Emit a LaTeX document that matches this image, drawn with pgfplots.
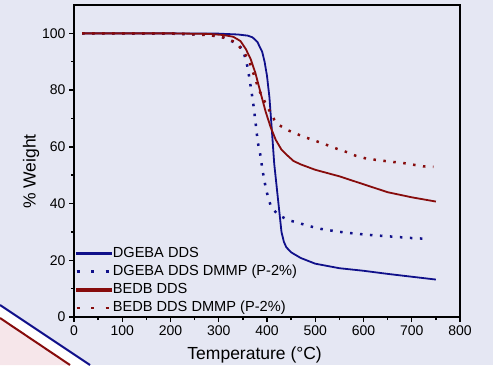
\documentclass[border=0pt]{standalone}
\usepackage{pgfplots}
\pgfplotsset{compat=1.18}
\usepackage{fontspec}
\setmainfont{Liberation Sans}
\definecolor{bgc}{RGB}{229,231,243}
\definecolor{navyc}{RGB}{16,16,138}
\definecolor{maroonc}{RGB}{135,12,12}
\definecolor{pinkc}{RGB}{246,230,234}
\begin{document}
\begin{tikzpicture}[x=1pt,y=1pt]
\fill[bgc] (0,0) rectangle (493,365);
\fill[pinkc] (0,47) -- (70,0) -- (0,0) -- cycle;
\fill[white] (0,60) -- (90,0) -- (70,0) -- (0,47) -- cycle;
\draw[navyc, line width=2pt] (0,60) -- (90,0);
\draw[maroonc, line width=2pt] (0,47) -- (70,0);
\begin{axis}[
  scale only axis,
  width=386pt, height=312pt,
  at={(74pt,48pt)}, anchor=south west,
  xmin=0, xmax=800, ymin=0, ymax=110,
  xtick={0,100,...,800}, ytick={0,20,...,100},
  minor x tick num=1, minor y tick num=1,
  tick align=outside,
  major tick length=5pt, minor tick length=3pt,
  xtick pos=bottom, ytick pos=left,
  axis line style={line width=1.6pt},
  every tick/.style={black, line width=1.4pt},
  tick label style={font=\fontsize{14}{16}\selectfont},
  /pgf/number format/assume math mode=true,
  xlabel={Temperature (°C)}, ylabel={\% Weight},
  label style={font=\fontsize{17.5}{20}\selectfont},
  xlabel style={at={(axis description cs:0.468,0)}, anchor=center, yshift=-38pt},
  ylabel style={at={(axis description cs:0,0.466)}, anchor=center, yshift=43pt},
  axis background/.style={fill=bgc},
  legend style={draw=none, fill=none, at={(axis description cs:0.003,0.2276)}, anchor=north west,
    font=\fontsize{14.6}{16}\selectfont, inner sep=0pt, column sep=1pt, row sep=3.7pt,
    nodes={inner sep=0pt, text height=11pt, text depth=3.5pt}},
  legend cell align=left,
]
\addplot[color=navyc, solid, line width=1.8pt,
  legend image code/.code={\fill[navyc] (0pt,-1pt) rectangle (34pt,1pt);}] coordinates {
(17,100)(200,100)(300,99.9)(340,99.6)(360,99.2)(370,98.6)(380,97)(390,93.5)(395,90)(400,85)(405,77.5)(410,66)(415,54)(420,46)(425,38)(430,30)(435,26.5)(440,24.6)(450,22.8)(470,20.8)(500,18.8)(550,17.2)(600,16.3)(650,15.2)(700,14.2)(750,13.2)};
\addlegendentry{DGEBA DDS}
\addplot[color=navyc, line width=2.5pt, line cap=butt, dash pattern=on 2.5pt off 7.5pt,
  legend image code/.code={\draw[navyc, line width=2.5pt, dash pattern=on 3pt off 11.5pt] (0pt,0pt) -- (34pt,0pt);}] coordinates {
(17,100)(200,99.9)(280,99.5)(310,98.5)(330,97)(350,94.5)(360,88)(366,81.5)(371,76)(376,69)(381,61.5)(387,56.5)(390,52.5)(395,47.6)(400,43.7)(407,39.6)(415,37.5)(424,36)(442,34.3)(462,33.3)(483,32.3)(504,31.3)(524,30.7)(560,29.8)(607,29)(655,28.4)(703,27.8)(728,27.6)};
\addlegendentry{DGEBA DDS DMMP (P-2\%)}
\addplot[color=maroonc, solid, line width=1.8pt,
  legend image code/.code={\fill[maroonc] (0pt,-1pt) rectangle (34pt,1pt);}] coordinates {
(17,100)(200,100)(280,99.8)(310,99.4)(330,98.8)(345,97.3)(356,94.5)(366,91)(376,86)(386,79.5)(397,72.5)(407,67.2)(418,62.5)(430,59)(440,57.3)(455,55)(470,53.8)(500,51.9)(550,49.6)(600,46.8)(650,44)(700,42.2)(750,40.7)};
\addlegendentry{BEDB DDS}
\addplot[color=maroonc, line width=2.5pt, line cap=butt, dash pattern=on 2.5pt off 7.5pt,
  legend image code/.code={\draw[maroonc, line width=2.5pt, dash pattern=on 3pt off 11.5pt] (0pt,0pt) -- (34pt,0pt);}] coordinates {
(17,100)(200,100)(280,99.4)(311,98.5)(337,96.7)(352,93.2)(362,90.8)(369,87.3)(376,83.7)(383,80.2)(393,76.7)(404,73.1)(415,69.6)(424,67.8)(440,66.1)(459,64.7)(477,63.5)(497,62.3)(517,61.1)(545,59.3)(566,58.1)(583,56.9)(607,55.8)(635,55.2)(659,54.7)(682,54.3)(703,53.7)(724,53.1)(745,52.9)};
\addlegendentry{BEDB DDS DMMP (P-2\%)}
\end{axis}
\pgfresetboundingbox
\path (0,0) rectangle (493,365);
\end{tikzpicture}
\end{document}
